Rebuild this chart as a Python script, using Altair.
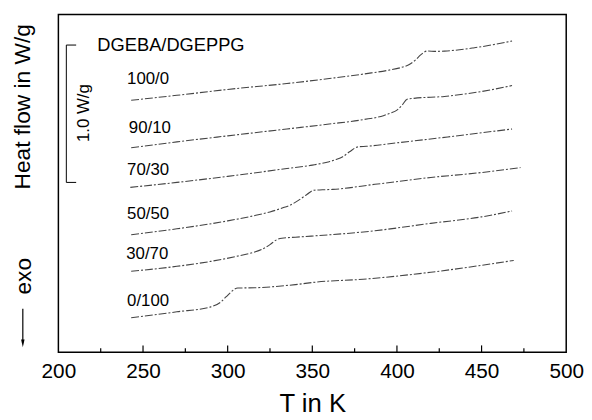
import altair as alt
import pandas as pd

FONT = "Liberation Sans"

# ---- data (temperature in K, heat flow in W/g, arbitrary offsets) ----
labels = ["100/0", "90/10", "70/30", "50/50", "30/70", "0/100"]

T_100_0 = [243, 270, 300, 335, 360, 382, 395, 402, 407, 411, 414, 418, 423, 428, 445, 468]
V_100_0 = [1.835, 1.871, 1.914, 1.957, 1.993, 2.029, 2.054, 2.072, 2.094, 2.129, 2.165, 2.194, 2.191, 2.193, 2.216, 2.266]

T_90_10 = [243, 270, 300, 335, 360, 380, 392, 396, 400, 403, 406, 410, 428, 450, 468]
V_90_10 = [1.489, 1.532, 1.576, 1.626, 1.662, 1.694, 1.723, 1.741, 1.763, 1.799, 1.842, 1.849, 1.863, 1.899, 1.942]

T_70_30 = [242.5, 270, 300, 335, 350, 360, 364, 368, 372, 377, 382, 400, 430, 468]
V_70_30 = [1.201, 1.237, 1.281, 1.338, 1.363, 1.388, 1.403, 1.424, 1.460, 1.496, 1.500, 1.525, 1.568, 1.626]

T_50_50 = [243, 270, 300, 315, 325, 333, 337, 342, 347, 351, 356, 362, 387, 420, 450, 473]
V_50_50 = [0.856, 0.899, 0.957, 0.993, 1.022, 1.054, 1.072, 1.108, 1.151, 1.180, 1.183, 1.186, 1.223, 1.273, 1.309, 1.345]

T_30_70 = [243, 270, 290, 305, 315, 320, 325, 329, 332, 340, 387, 420, 450, 468]
V_30_70 = [0.590, 0.626, 0.662, 0.698, 0.727, 0.748, 0.784, 0.820, 0.831, 0.838, 0.885, 0.939, 0.986, 1.029]

T_0_100 = [243, 270, 290, 296, 299, 302, 304, 306, 316, 340, 352, 380, 420, 469]
V_0_100 = [0.252, 0.295, 0.331, 0.367, 0.403, 0.439, 0.460, 0.468, 0.470, 0.493, 0.511, 0.532, 0.583, 0.669]

# label anchor positions (T, V)
label_T = [253, 254, 253, 253, 252.5, 253]
label_V = [1.986, 1.633, 1.324, 1.007, 0.712, 0.374]

legend_title = "DGEBA/DGEPPG"
legend_title_T = 266.5
legend_title_V = 2.237

# scale bar (1.0 W/g)
bar_T = 204.7
bar_T_end = 210.5
bar_top = 2.237
bar_len = 1.0
bar_text = "1.0 W/g"
bar_text_T = 218.0
bar_text_V = 1.741

major_ticks = [250, 300, 350, 400, 450]
minor_ticks = [225, 275, 325, 375, 425, 475]
x_tick_values = [200, 250, 300, 350, 400, 450, 500]

# ---- build tables ----
series = [T_100_0, T_90_10, T_70_30, T_50_50, T_30_70, T_0_100]
values = [V_100_0, V_90_10, V_70_30, V_50_50, V_30_70, V_0_100]
rows = []
for lab, ts, vs in zip(labels, series, values):
    for t, v in zip(ts, vs):
        rows.append({"label": lab, "T": t, "V": v})
curves = pd.DataFrame(rows)

lab_df = pd.DataFrame({"label": labels, "T": label_T, "V": label_V})
title_df = pd.DataFrame({"label": [legend_title], "T": [legend_title_T], "V": [legend_title_V]})
bar_v = pd.DataFrame({"T": [bar_T], "V": [bar_top], "V2": [bar_top - bar_len]})
bar_h = pd.DataFrame({"T": [bar_T, bar_T], "T2": [bar_T_end, bar_T_end],
                      "V": [bar_top, bar_top - bar_len]})
bar_txt = pd.DataFrame({"label": [bar_text], "T": [bar_text_T], "V": [bar_text_V]})
maj_df = pd.DataFrame({"T": major_ticks})
min_df = pd.DataFrame({"T": minor_ticks})

xscale = alt.Scale(domain=[200, 500], nice=False, zero=False)
yscale = alt.Scale(domain=[0, 2.46], nice=False, zero=False)

xaxis = alt.Axis(title="T in K", values=x_tick_values, ticks=False, domain=False, grid=False,
                 labelFontSize=21, labelFont=FONT, labelColor="black", labelPadding=8,
                 labelFlush=False, labelOverlap=False, format="d",
                 titleFont=FONT, titleFontSize=26, titleFontWeight="normal", titleColor="black",
                 titleBaseline="alphabetic", titleY=60)
yaxis = alt.Axis(title="Heat flow in W/g", labels=False, ticks=False, domain=False, grid=False,
                 titleFont=FONT, titleFontSize=23, titleFontWeight="normal", titleColor="black",
                 titleAngle=270, titleBaseline="alphabetic", titleAlign="center",
                 titleX=-29, titleY=93)

lines = alt.Chart(curves).mark_line(
    strokeDash=[8, 2, 2, 2], color="#444444", strokeWidth=1.1, interpolate="monotone"
).encode(
    x=alt.X("T:Q", scale=xscale, axis=xaxis),
    y=alt.Y("V:Q", scale=yscale, axis=yaxis),
    detail="label:N",
)

lab_layer = alt.Chart(lab_df).mark_text(
    font=FONT, fontSize=17, color="black", align="center", baseline="middle"
).encode(x="T:Q", y="V:Q", text="label:N")

title_layer = alt.Chart(title_df).mark_text(
    font=FONT, fontSize=18.5, color="black", align="center", baseline="middle"
).encode(x="T:Q", y="V:Q", text="label:N")

bar_v_layer = alt.Chart(bar_v).mark_rule(color="black", strokeWidth=1).encode(
    x="T:Q", y="V:Q", y2="V2:Q")
bar_h_layer = alt.Chart(bar_h).mark_rule(color="black", strokeWidth=1).encode(
    x="T:Q", x2="T2:Q", y="V:Q")
bar_t_layer = alt.Chart(bar_txt).mark_text(
    font=FONT, fontSize=17, color="black", align="center", baseline="alphabetic", angle=270
).encode(x="T:Q", y="V:Q", text="label:N")

maj_layer = alt.Chart(maj_df).mark_rule(color="black", strokeWidth=1.2).encode(
    x="T:Q", y=alt.value(342), y2=alt.value(335))
min_layer = alt.Chart(min_df).mark_rule(color="black", strokeWidth=1.2).encode(
    x="T:Q", y=alt.value(342), y2=alt.value(338))

exo_layer = alt.Chart(pd.DataFrame({"label": ["exo"]})).mark_text(
    font=FONT, fontSize=23, color="black", align="center", baseline="alphabetic", angle=270
).encode(x=alt.value(-28), y=alt.value(265), text="label:N")

arrow_line = alt.Chart(pd.DataFrame({"a": [0]})).mark_rule(color="black", strokeWidth=1.2).encode(
    x=alt.value(-36), y=alt.value(298), y2=alt.value(332))
arrow_head = alt.Chart(pd.DataFrame({"a": [0]})).mark_point(
    shape="M-0.45,-1L0.45,-1L0,1Z", filled=True, color="black", size=60, opacity=1
).encode(x=alt.value(-36), y=alt.value(333))

chart = alt.layer(
    lines, lab_layer, title_layer, bar_v_layer, bar_h_layer, bar_t_layer,
    maj_layer, min_layer, exo_layer, arrow_line, arrow_head
).properties(
    width=514, height=342,
    padding={"left": 51, "top": 4, "right": 18, "bottom": 66},
    autosize=alt.AutoSizeParams(type="none"),
).configure_view(stroke="black", strokeWidth=1.5)

chart.save("out.html", embed_options={"renderer": "svg", "actions": False})
